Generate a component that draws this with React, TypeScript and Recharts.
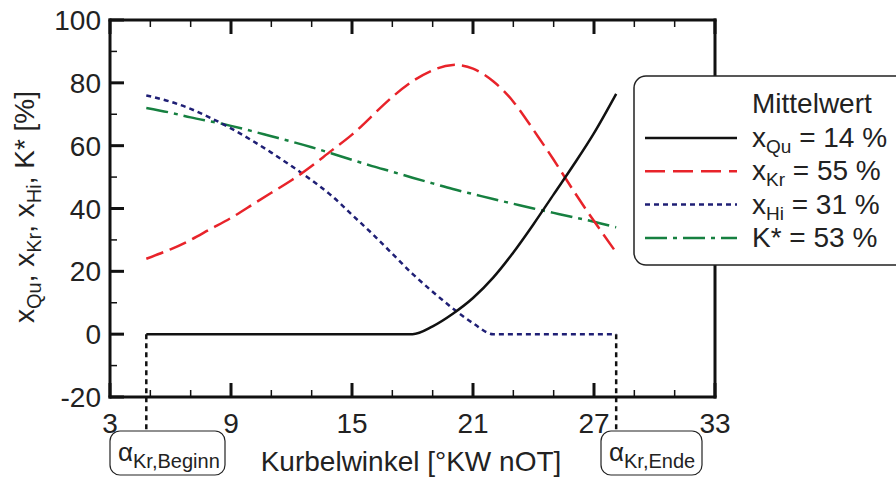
import React from "react";
import { LineChart, Line, XAxis, YAxis, ReferenceLine } from "recharts";

// crank angle positions [°KW nOT]
const angles = [4.8, 6, 7, 8, 9, 10, 11, 12, 13, 14, 15, 16, 17, 18, 19, 20, 21, 22, 23, 24, 25, 26, 27, 28.1];
const xQu = [0, 0, 0, 0, 0, 0, 0, 0, 0, 0, 0, 0, 0, 0, 2.5, 6.5, 11.5, 18, 26, 35, 44.5, 54, 64, 76.5];
const xKr = [24, 27, 30, 33.5, 37, 41, 45, 49, 53.5, 58.5, 63.5, 69.5, 75.5, 80.5, 84, 85.7, 84.5, 80.5, 74, 65, 55.5, 45.5, 36, 26];
const xHi = [76, 74, 71.7, 68.8, 65.5, 61.8, 57.8, 53.5, 49, 44, 38, 32, 25.6, 19.2, 13.5, 8.2, 3.5, 0, 0, 0, 0, 0, 0, 0];
const kStar = [72, 70.5, 69, 67.7, 66.3, 64.7, 63, 61.3, 59.5, 57.5, 55.5, 53.5, 51.7, 49.8, 48, 46.2, 44.6, 43, 41.5, 40, 38.6, 37.2, 35.8, 34];

const xTicks = [3, 5, 7, 9, 11, 13, 15, 17, 19, 21, 23, 25, 27, 29, 31, 33];
const yTicks = [-20, -10, 0, 10, 20, 30, 40, 50, 60, 70, 80, 90, 100];
const KR_BEGINN = 4.8;
const KR_ENDE = 28.1;

const legendRows = [
  { sub: "Qu", label: " = 14 %", color: "#111", dash: undefined as string | undefined, base: "x" },
  { sub: "Kr", label: " = 55 %", color: "#e8232a", dash: "20 8", base: "x" },
  { sub: "Hi", label: " = 31 %", color: "#1f1f75", dash: "5 4", base: "x" },
  { sub: "", label: "K* = 53 %", color: "#168040", dash: "22 6 4 6", base: "" },
];

const data = angles.map((a, i) => ({
  a,
  qu: xQu[i],
  kr: xKr[i],
  hi: xHi[i],
  k: kStar[i],
}));

const FONT = '"Liberation Sans", Arial, sans-serif';

function XTick(props: any) {
  const { x, y, payload, top } = props;
  const v = payload.value;
  const major = (v - 3) % 6 === 0;
  const len = major ? 14 : 7;
  const dir = top ? 1 : -1;
  return (
    <g>
      <line x1={x} x2={x} y1={y} y2={y + dir * len} stroke="#111" strokeWidth={major ? 3 : 1.5} />
      {!top && major && (
        <text x={x} y={y + 36} textAnchor="middle" fontSize={28} fill="#222" fontFamily={FONT}>
          {v}
        </text>
      )}
    </g>
  );
}

function YTick(props: any) {
  const { x, y, payload, right } = props;
  const v = payload.value;
  const major = v % 20 === 0;
  const len = major ? 14 : 7;
  const dir = right ? -1 : 1;
  return (
    <g>
      <line x1={x} x2={x + dir * len} y1={y} y2={y} stroke="#111" strokeWidth={major ? 3 : 1.5} />
      {!right && major && (
        <text x={x - 9} y={y + 10} textAnchor="end" fontSize={28} fill="#222" fontFamily={FONT}>
          {v}
        </text>
      )}
    </g>
  );
}

const axisLine = { stroke: "#111", strokeWidth: 3, strokeLinecap: "square" as const };

function Overlay() {
  return (
    <svg
      width={896}
      height={477}
      style={{ position: "absolute", left: 0, top: 0, pointerEvents: "none" }}
      fontFamily={FONT}
    >
      {/* y axis title */}
      <text
        x={34}
        y={207}
        textAnchor="middle"
        fontSize={28}
        fill="#222"
        transform="rotate(-90, 34, 207)"
      >
        x<tspan fontSize={20} dy={7}>Qu</tspan>
        <tspan dy={-7}>, x</tspan>
        <tspan fontSize={20} dy={7}>Kr</tspan>
        <tspan dy={-7}>, x</tspan>
        <tspan fontSize={20} dy={7}>Hi</tspan>
        <tspan dy={-7}>, K* [%]</tspan>
      </text>
      {/* x axis title */}
      <text x={411} y={471} textAnchor="middle" fontSize={28} fill="#222">
        Kurbelwinkel [°KW nOT]
      </text>

      {/* angle boxes */}
      <rect x={110} y={431} width={115} height={44} rx={10} fill="#fff" stroke="#222" strokeWidth={1.2} />
      <text x={118} y={461} fontSize={26} fill="#222">
        α<tspan fontSize={20} dy={7}>Kr,Beginn</tspan>
      </text>
      <rect x={601} y={431} width={101} height={44} rx={10} fill="#fff" stroke="#222" strokeWidth={1.2} />
      <text x={609} y={461} fontSize={26} fill="#222">
        α<tspan fontSize={20} dy={7}>Kr,Ende</tspan>
      </text>

      {/* legend */}
      <rect x={634} y={76} width={290} height={189} rx={12} fill="#fff" stroke="#222" strokeWidth={1.5} />
      <text x={752} y={113} fontSize={28} fill="#222">
        Mittelwert
      </text>
      {legendRows.map((r, i) => {
        const ly = 138 + i * 33.3;
        return (
          <g key={i}>
            <line x1={645} x2={737} y1={ly} y2={ly} stroke={r.color} strokeWidth={2.5} strokeDasharray={r.dash} />
            <text x={752} y={ly + 9} fontSize={28} fill="#222">
              {r.base}
              {r.sub && (
                <tspan fontSize={19} dy={6}>
                  {r.sub}
                </tspan>
              )}
              <tspan dy={r.sub ? -6 : 0}>{r.label}</tspan>
            </text>
          </g>
        );
      })}
    </svg>
  );
}

export default function App() {
  return (
    <div style={{ position: "absolute", left: 0, top: 0, width: 896, height: 477, background: "#fff" }}>
      <LineChart
        width={896}
        height={477}
        data={data}
        margin={{ top: 10, right: 171, bottom: 40, left: 50 }}
      >
        <XAxis
          xAxisId="b"
          dataKey="a"
          type="number"
          domain={[3, 33]}
          ticks={xTicks}
          interval={0}
          height={40}
          tickSize={0}
          tickMargin={0}
          axisLine={axisLine}
          tickLine={false}
          tick={<XTick />}
        />
        <XAxis
          xAxisId="t"
          orientation="top"
          dataKey="a"
          type="number"
          domain={[3, 33]}
          ticks={xTicks}
          interval={0}
          height={10}
          tickSize={0}
          tickMargin={0}
          axisLine={axisLine}
          tickLine={false}
          tick={<XTick top />}
        />
        <YAxis
          yAxisId="l"
          type="number"
          domain={[-20, 100]}
          ticks={yTicks}
          interval={0}
          width={60}
          tickSize={0}
          tickMargin={0}
          axisLine={axisLine}
          tickLine={false}
          tick={<YTick />}
        />
        <YAxis
          yAxisId="r"
          orientation="right"
          type="number"
          domain={[-20, 100]}
          ticks={yTicks}
          interval={0}
          width={10}
          tickSize={0}
          tickMargin={0}
          axisLine={axisLine}
          tickLine={false}
          tick={<YTick right />}
        />
        <ReferenceLine
          xAxisId="b"
          yAxisId="l"
          segment={[
            { x: KR_BEGINN, y: 0 },
            { x: KR_BEGINN, y: -31 },
          ]}
          ifOverflow="visible"
          stroke="#111"
          strokeWidth={2.5}
          strokeDasharray="5 4"
        />
        <ReferenceLine
          xAxisId="b"
          yAxisId="l"
          segment={[
            { x: KR_ENDE, y: 0 },
            { x: KR_ENDE, y: -31 },
          ]}
          ifOverflow="visible"
          stroke="#111"
          strokeWidth={2.5}
          strokeDasharray="5 4"
        />
        <Line xAxisId="b" yAxisId="l" type="natural" dataKey="k" stroke="#168040" strokeWidth={2.5} strokeDasharray="22 6 4 6" dot={false} isAnimationActive={false} />
        <Line xAxisId="b" yAxisId="l" type="monotone" dataKey="hi" stroke="#1f1f75" strokeWidth={2.5} strokeDasharray="5 4" dot={false} isAnimationActive={false} />
        <Line xAxisId="b" yAxisId="l" type="natural" dataKey="kr" stroke="#e8232a" strokeWidth={2.5} strokeDasharray="18 7" dot={false} isAnimationActive={false} />
        <Line xAxisId="b" yAxisId="l" type="monotone" dataKey="qu" stroke="#111" strokeWidth={2.5} dot={false} isAnimationActive={false} />
      </LineChart>
      <Overlay />
    </div>
  );
}
